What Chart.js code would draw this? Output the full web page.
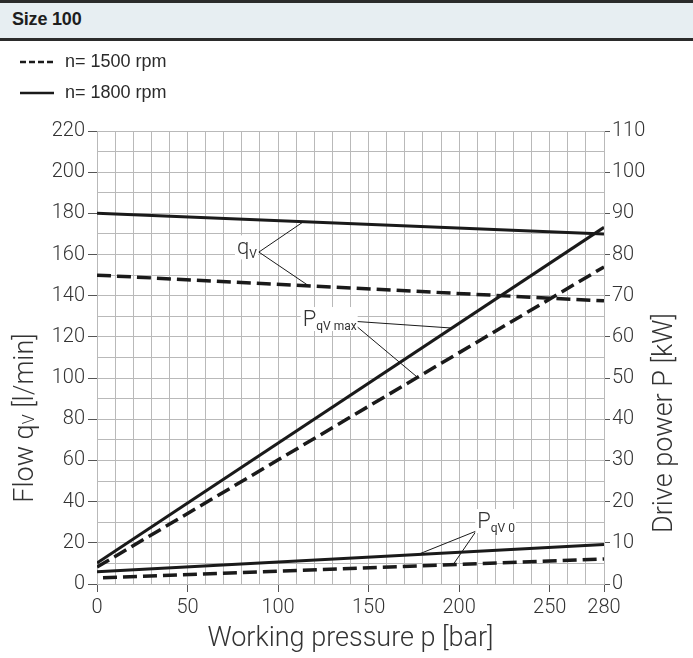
<!DOCTYPE html>
<html>
<head>
<meta charset="utf-8">
<script src="https://cdn.jsdelivr.net/npm/chart.js@4"></script>
<style>
  html, body { margin: 0; padding: 0; background: #fff; }
  body { width: 693px; height: 658px; position: relative; overflow: hidden; font-family: "Liberation Sans", Arial, sans-serif; color: #222; }
  #head { position: absolute; left: 0; top: 0; width: 693px; height: 35px; background: #e7eef2; border-top: 3px solid #2b2b2b; border-bottom: 3px solid #2b2b2b; }
  #head span { position: absolute; left: 12px; top: 6px; font-weight: bold; font-size: 18px; color: #1e1e1e; letter-spacing: -0.2px; }
  .leg { position: absolute; left: 20px; font-size: 18px; color: #2a2a2a; }
  .leg svg { position: absolute; left: 0; top: 0; }
  .leg span { position: absolute; left: 45px; top: -11px; white-space: nowrap; }
  #chart { position: absolute; left: 0; top: 0; }
</style>
</head>
<body>
<canvas id="chart" width="693" height="658"></canvas>
<div id="head"><span>Size 100</span></div>
<div class="leg" style="top:62px"><svg width="36" height="4" style="top:-2px"><line x1="0" y1="2" x2="34" y2="2" stroke="#1a1a1a" stroke-width="2.5" stroke-dasharray="6,3"/></svg><span>n= 1500 rpm</span></div>
<div class="leg" style="top:93px"><svg width="36" height="4" style="top:-2px"><line x1="0" y1="2" x2="34" y2="2" stroke="#1a1a1a" stroke-width="2.5"/></svg><span>n= 1800 rpm</span></div>
<script>
// working pressure [bar]
const pressure = [0, 280];
// flow qV [l/min]
const flow1500 = [150, 137.5];
const flow1800 = [180, 170];
// drive power at max flow [kW]
const pMax1500 = [4.1, 77];
const pMax1800 = [5.1, 86.6];
// drive power at zero flow [kW]
const pZero1500 = [1.45, 6.1];
const pZero1800 = [3, 9.6];

const xTicks = [0, 50, 100, 150, 200, 250, 280];
const flowTicks = [0, 20, 40, 60, 80, 100, 120, 140, 160, 180, 200, 220];
const powerTicks = [0, 10, 20, 30, 40, 50, 60, 70, 80, 90, 100, 110];
const gridStep = 10;

const INK = '#1a1a1a';
const TEXT = '#333';
const GRID = '#b9b9b9';
const FONT = 'Roboto, "Liberation Sans", Arial, sans-serif';
const LIGHT = '300 ';

function pts(ys) { return pressure.map((p, i) => ({ x: p, y: ys[i] })); }
function line(label, ys, axis, dashed, offset) {
  return {
    label, data: pts(ys), yAxisID: axis,
    borderColor: INK, borderWidth: dashed ? 3.5 : 3,
    borderDash: dashed ? [14, 6] : [], borderDashOffset: offset || 0,
    pointRadius: 0, tension: 0, fill: false
  };
}

function gridTicks(max) {
  const t = [];
  for (let v = 0; v <= max; v += gridStep) t.push({ value: v });
  return t;
}

// leader-line labels: text anchor and hook in flow units, targets on datasets
const notes = [
  { main: 'q', sub: 'V', at: [77.3, 163], hook: [89.4, 161.2], targets: [[1, 114], [0, 117]] },
  { main: 'P', sub: 'qV max', at: [113.6, 128.2], hook: [139.9, 127.7], targets: [[3, 196], [2, 177]] },
  { main: 'P', sub: 'qV 0', at: [210, 30.1], hook: [209.4, 25.7], targets: [[5, 177.3], [4, 196.7]] }
];

function valueAt(ds, x) {
  const d = ds.data;
  const t = (x - d[0].x) / (d[d.length - 1].x - d[0].x);
  return d[0].y + t * (d[d.length - 1].y - d[0].y);
}

function drawParts(ctx, parts, x, y) {
  let w = 0;
  parts.forEach(p => { ctx.font = LIGHT + p.size + 'px ' + FONT; p.w = ctx.measureText(p.t).width; w += p.w; });
  let cx = x - w / 2;
  parts.forEach(p => {
    ctx.font = LIGHT + p.size + 'px ' + FONT;
    ctx.fillText(p.t, cx, y + (p.dy || 0));
    cx += p.w;
  });
}

const overlay = {
  id: 'overlay',
  afterDatasetsDraw(chart) {
    const ctx = chart.ctx;
    const xs = chart.scales.x;
    const ys = chart.scales.y;
    ctx.save();
    ctx.fillStyle = TEXT;
    ctx.textBaseline = 'middle';
    ctx.textAlign = 'left';
    notes.forEach(n => {
      const hx = xs.getPixelForValue(n.hook[0]);
      const hy = ys.getPixelForValue(n.hook[1]);
      ctx.strokeStyle = INK;
      ctx.lineWidth = 1;
      n.targets.forEach(([i, px]) => {
        const ds = chart.data.datasets[i];
        const sc = chart.scales[ds.yAxisID];
        ctx.beginPath();
        ctx.moveTo(hx, hy);
        ctx.lineTo(xs.getPixelForValue(px), sc.getPixelForValue(valueAt(ds, px)));
        ctx.stroke();
      });
      const lx = xs.getPixelForValue(n.at[0]);
      const ly = ys.getPixelForValue(n.at[1]);
      ctx.font = LIGHT + '22px ' + FONT;
      const mw = ctx.measureText(n.main).width;
      ctx.font = '12px ' + FONT;
      const sw = ctx.measureText(n.sub).width;
      ctx.fillStyle = '#fff';
      ctx.fillRect(lx - 2, ly - 13, mw + sw + 3, 24);
      ctx.fillStyle = TEXT;
      ctx.font = LIGHT + '22px ' + FONT;
      ctx.fillText(n.main, lx, ly);
      ctx.font = '12px ' + FONT;
      ctx.fillText(n.sub, lx + mw, ly + 7);
    });

    // axis titles
    const a = chart.chartArea;
    ctx.textAlign = 'left';
    ctx.textBaseline = 'middle';
    ctx.fillStyle = TEXT;
    ctx.save();
    ctx.translate(26, 418);
    ctx.rotate(-Math.PI / 2);
    drawParts(ctx, [{ t: 'Flow q', size: 27 }, { t: 'V', size: 16, dy: 4 }, { t: ' [l/min]', size: 27 }], 0, 0);
    ctx.restore();
    ctx.save();
    ctx.translate(665, 423);
    ctx.rotate(-Math.PI / 2);
    drawParts(ctx, [{ t: 'Drive power P [kW]', size: 27 }], 0, 0);
    ctx.restore();
    drawParts(ctx, [{ t: 'Working pressure p [bar]', size: 27 }], (a.left + a.right) / 2, 639);
    ctx.restore();
  }
};

Chart.defaults.font.family = FONT;
Chart.defaults.font.size = 20;
Chart.defaults.font.weight = 300;
Chart.defaults.color = TEXT;

new Chart(document.getElementById('chart'), {
  type: 'line',
  data: {
    datasets: [
      line('qV 1500', flow1500, 'y', true),
      line('qV 1800', flow1800, 'y', false),
      line('PqV max 1500', pMax1500, 'y1', true),
      line('PqV max 1800', pMax1800, 'y1', false),
      line('PqV 0 1500', pZero1500, 'y1', true, -6),
      line('PqV 0 1800', pZero1800, 'y1', false)
    ]
  },
  options: {
    responsive: false,
    animation: false,
    layout: { padding: { top: 131, left: 0, right: 0, bottom: 0 } },
    plugins: { legend: { display: false }, tooltip: { enabled: false } },
    scales: {
      x: {
        type: 'linear', min: 0, max: 280,
        afterBuildTicks: s => { s.ticks = gridTicks(280); },
        afterFit: s => { s.height = 74; },
        ticks: {
          autoSkip: false, maxRotation: 0, padding: 4,
          callback: v => xTicks.includes(v) ? String(v) : ''
        },
        grid: {
          color: GRID, lineWidth: 1, tickLength: 8,
          tickColor: c => xTicks.includes(c.tick && c.tick.value) ? '#555' : 'rgba(0,0,0,0)'
        },
        border: { color: GRID }
      },
      y: {
        type: 'linear', position: 'left', min: 0, max: 220,
        afterBuildTicks: s => { s.ticks = gridTicks(220); },
        afterFit: s => { s.width = 97; },
        ticks: {
          autoSkip: false, padding: 3,
          callback: v => flowTicks.includes(v) ? String(v) : ''
        },
        grid: {
          color: GRID, lineWidth: 1, tickLength: 9,
          tickColor: c => flowTicks.includes(c.tick && c.tick.value) ? '#555' : 'rgba(0,0,0,0)'
        },
        border: { color: GRID }
      },
      y1: {
        type: 'linear', position: 'right', min: 0, max: 110,
        afterBuildTicks: s => { s.ticks = powerTicks.map(v => ({ value: v })); },
        afterFit: s => { s.width = 89; },
        ticks: { autoSkip: false, padding: 2 },
        grid: { drawOnChartArea: false, tickLength: 6, tickColor: '#555' },
        border: { color: GRID }
      }
    }
  },
  plugins: [overlay]
});
</script>
</body>
</html>
